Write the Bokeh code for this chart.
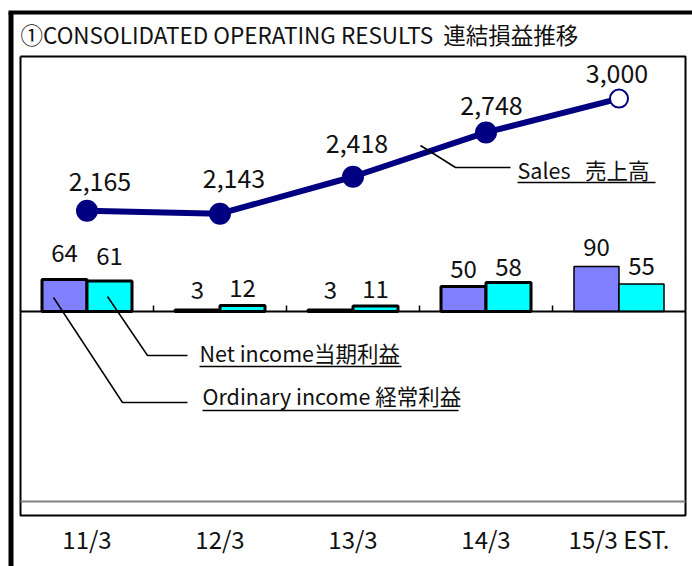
from bokeh.plotting import figure
from bokeh.models import Range1d, ColumnDataSource
from bokeh.core.properties import value
from bokeh.embed import file_html
from bokeh.resources import INLINE

# ---------------- data ----------------
categories = ["11/3", "12/3", "13/3", "14/3", "15/3 EST."]
sales = [2165, 2143, 2418, 2748, 3000]
sales_labels = ["2,165", "2,143", "2,418", "2,748", "3,000"]
ordinary_income = [64, 3, 3, 50, 90]
net_income = [61, 12, 11, 58, 55]

title_text = "①CONSOLIDATED OPERATING RESULTS\u00a0 連結損益推移"
sales_name = "Sales\u00a0\u00a0 売上高"
net_name = "Net income当期利益"
ord_name = "Ordinary income 経常利益"

# ---------------- layout / styles ----------------
W, H = 692, 566
FONT = value("Noto Sans CJK JP")
NAVY = "#000080"
PURPLE = "#8080FF"
CYAN = "#00FFFF"
TXT = "#111111"
FIX = 9.5               # baseline correction for the font metrics (px)

PX_PER_CAT = 133.0
X0_PX = 86.5            # pixel centre of first category
x_start = -X0_PX / PX_PER_CAT
x_end = x_start + W / PX_PER_CAT

INC_PX = 0.5            # px per income unit
INC0_PY = 311.0         # pixel row of income zero
y_end = INC0_PY / INC_PX
y_start = y_end - H / INC_PX

SAL_PX = 0.1343         # px per sales unit
SAL0_PY = 501.0         # pixel row of sales zero
s_end = SAL0_PY / SAL_PX
s_start = s_end - H / SAL_PX


def X(px):
    return x_start + px / PX_PER_CAT


def Y(py):
    return y_end - py / INC_PX


def TY(py):
    return Y(py - FIX)


p = figure(width=W, height=H, x_range=Range1d(x_start, x_end),
           y_range=Range1d(y_start, y_end), output_backend="svg",
           toolbar_location=None, title=None, x_axis_location=None,
           y_axis_location=None, min_border=0)
p.extra_y_ranges = {"sales": Range1d(s_start, s_end)}
p.grid.visible = False
p.outline_line_color = None
p.background_fill_color = "white"
p.border_fill_color = "white"

idx = list(range(len(categories)))
bw = 45.0 / PX_PER_CAT
bar_lw = [3, 3, 3, 3, 1.5]

# ---------------- frames ----------------
p.line([X(10.5), X(10.5)], [Y(12), Y(H + 5)], line_color="black", line_width=5)
p.line([X(8), X(W + 5)], [Y(12), Y(12)], line_color="black", line_width=4)
p.text(x=[X(20)], y=[TY(43)], text=[title_text], text_font=FONT,
       text_font_size="22.5px", text_color=TXT, text_align="left",
       text_baseline="alphabetic")
fl, fr, ft, fb = 20, 685, 56, 515
p.line([X(fl), X(fr), X(fr), X(fl), X(fl)], [Y(ft), Y(ft), Y(fb), Y(fb), Y(ft)],
       line_color="black", line_width=2)

# sales axis zero line (gray)
p.segment(x0=[X(fl)], y0=[0], x1=[X(fr)], y1=[0], y_range_name="sales",
          line_color="#808080", line_width=2)

# ---------------- bars ----------------
ord_src = ColumnDataSource(dict(x=[i - bw / 2 for i in idx], top=ordinary_income, lw=bar_lw,
                                lab=[str(v) for v in ordinary_income],
                                dy=[-17 - FIX, -10.5 - FIX, -10.5 - FIX, -8 - FIX, -10 - FIX]))
net_src = ColumnDataSource(dict(x=[i + bw / 2 for i in idx], top=net_income, lw=bar_lw,
                                lab=[str(v) for v in net_income],
                                dy=[-16 - FIX, -8 - FIX, -8 - FIX, -6 - FIX, -8.5 - FIX]))
p.vbar(x="x", top="top", bottom=0, width=bw, source=ord_src,
       fill_color=PURPLE, line_color="black", line_width="lw")
p.vbar(x="x", top="top", bottom=0, width=bw, source=net_src,
       fill_color=CYAN, line_color="black", line_width="lw")

p.segment(x0=[X(fl)], y0=[0], x1=[X(fr)], y1=[0], line_color="black", line_width=2)
bounds = [i + 0.5 for i in idx[:-1]]
p.segment(x0=bounds, y0=[0] * len(bounds), x1=bounds, y1=[6 / INC_PX] * len(bounds),
          line_color="black", line_width=1.5)

for src in (ord_src, net_src):
    p.text(x="x", y="top", text="lab", source=src, y_offset="dy",
           text_font=FONT, text_font_size="24px", text_color=TXT,
           text_align="center", text_baseline="alphabetic")

# ---------------- sales line ----------------
sal_src = ColumnDataSource(dict(x=idx, y=sales, lab=sales_labels,
                                dx=[13, 14, 4, 5.5, -2],
                                dy=[-19.5 - FIX, -26 - FIX, -23.5 - FIX, -17 - FIX, -16 - FIX],
                                fill=[NAVY, NAVY, NAVY, NAVY, "white"],
                                size=[20, 20, 20, 20, 18]))
p.line(x="x", y="y", source=sal_src, y_range_name="sales",
       line_color=NAVY, line_width=6)
p.scatter(x="x", y="y", source=sal_src, y_range_name="sales", size="size",
          fill_color="fill", line_color=NAVY, line_width=2)
p.text(x="x", y="y", text="lab", source=sal_src, y_range_name="sales",
       x_offset="dx", y_offset="dy", text_font=FONT, text_font_size="25px",
       text_color=TXT, text_align="center", text_baseline="alphabetic")

# ---------------- category labels ----------------
p.text(x=idx, y=[TY(547)] * len(idx), text=categories, text_font=FONT,
       text_font_size="24px", text_color=TXT, text_align="center",
       text_baseline="alphabetic")

# ---------------- leader annotations ----------------
def leader(pts):
    p.line([X(a) for a, b in pts], [Y(b) for a, b in pts], line_color="black", line_width=1.5)


def note(txt, px, py, u0, u1, uy):
    p.text(x=[X(px)], y=[TY(py)], text=[txt], text_font=FONT, text_font_size="21.5px",
           text_color=TXT, text_align="left", text_baseline="alphabetic")
    p.line([X(u0), X(u1)], [Y(uy), Y(uy)], line_color="black", line_width=1.5)


leader([(420, 145), (455, 167), (510, 167)])
note(sales_name, 517, 178, 517, 655, 182)
leader([(107, 296), (147, 355), (187, 355)])
note(net_name, 199, 361, 199, 401, 366)
leader([(53, 297), (122, 402), (187, 402)])
note(ord_name, 202, 404, 202, 458, 410)

open("out.html", "w").write(file_html(p, INLINE))
